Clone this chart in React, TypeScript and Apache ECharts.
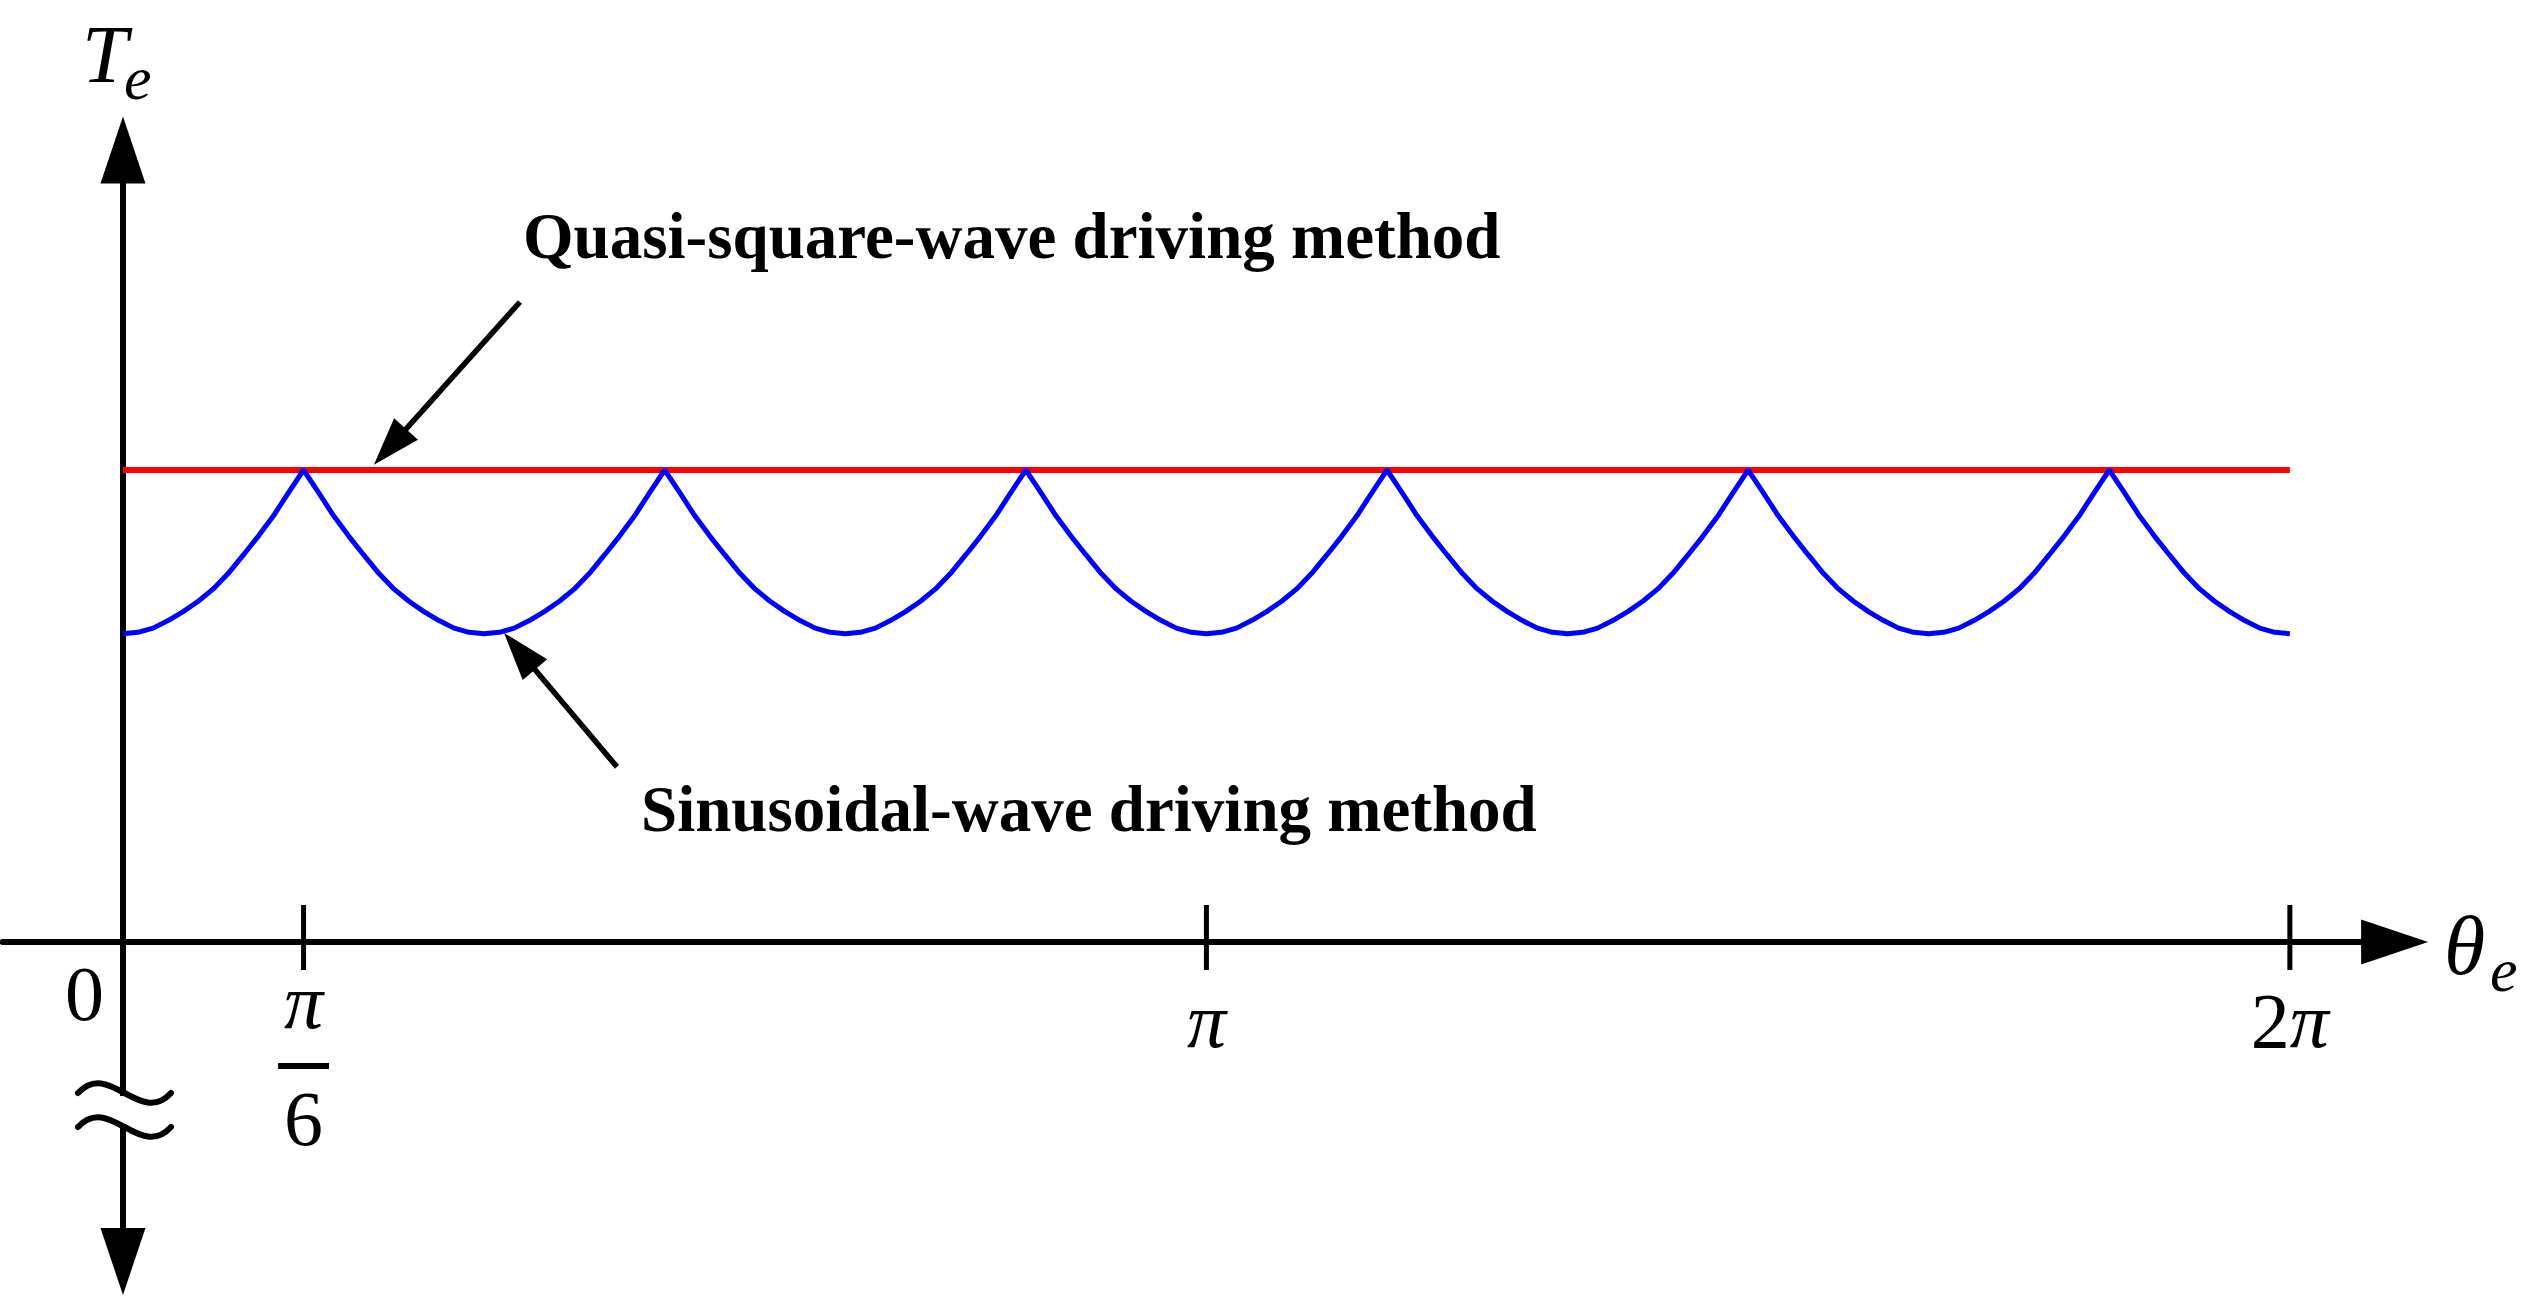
import React, { useEffect, useRef } from "react";
import * as echarts from "echarts";

// ---- Data ----
// electrical angle in degrees, sampled every 2.5 deg for the sinusoidal-wave torque
const angleStepDeg = 2.5;
const sinusoidalTorque = [
  0.653, 0.656, 0.665, 0.681, 0.700, 0.722, 0.748, 0.781, 0.820, 0.860, 0.903, 0.952, 1.000, 0.952, 0.903, 0.860, 0.820, 0.781, 0.748, 0.722, 0.700, 0.681, 0.665, 0.656,
  0.653, 0.656, 0.665, 0.681, 0.700, 0.722, 0.748, 0.781, 0.820, 0.860, 0.903, 0.952, 1.000, 0.952, 0.903, 0.860, 0.820, 0.781, 0.748, 0.722, 0.700, 0.681, 0.665, 0.656,
  0.653, 0.656, 0.665, 0.681, 0.700, 0.722, 0.748, 0.781, 0.820, 0.860, 0.903, 0.952, 1.000, 0.952, 0.903, 0.860, 0.820, 0.781, 0.748, 0.722, 0.700, 0.681, 0.665, 0.656,
  0.653, 0.656, 0.665, 0.681, 0.700, 0.722, 0.748, 0.781, 0.820, 0.860, 0.903, 0.952, 1.000, 0.952, 0.903, 0.860, 0.820, 0.781, 0.748, 0.722, 0.700, 0.681, 0.665, 0.656,
  0.653, 0.656, 0.665, 0.681, 0.700, 0.722, 0.748, 0.781, 0.820, 0.860, 0.903, 0.952, 1.000, 0.952, 0.903, 0.860, 0.820, 0.781, 0.748, 0.722, 0.700, 0.681, 0.665, 0.656,
  0.653, 0.656, 0.665, 0.681, 0.700, 0.722, 0.748, 0.781, 0.820, 0.860, 0.903, 0.952, 1.000, 0.952, 0.903, 0.860, 0.820, 0.781, 0.748, 0.722, 0.700, 0.681, 0.665, 0.656,
  0.653,
];
const quasiSquareAngles = [0, 360];
const quasiSquareTorque = [1.0, 1.0];

const xTickValues = [30, 180, 360];
const xLabelValues = [0, 30, 180, 360];
const xLabelTexts = ["0", "π/6", "π", "2π"];

const annotationTexts = ["Quasi-square-wave driving method", "Sinusoidal-wave driving method"];
const quasiArrow = [
  [65.95, 1.356],
  [44.36, 1.049],
];
const sinusoidalArrow = [
  [82.07, 0.371],
  [65.87, 0.616],
];

const SERIF = "'Liberation Serif', 'Times New Roman', serif";

export default function App() {
  const ref = useRef<HTMLDivElement>(null);

  useEffect(() => {
    if (!ref.current) return;
    const chart = echarts.init(ref.current, null, { renderer: "svg" });

    const labelBase = {
      fill: "#000",
      fontFamily: SERIF,
      fontSize: 78,
      align: "center",
      verticalAlign: "middle",
    };
    const richStyles = {
      p: { fill: "#000", fontFamily: SERIF, fontSize: 78, fontStyle: "italic" },
      n: { fill: "#000", fontFamily: SERIF, fontSize: 78 },
    };

    const option = {
      animation: false,
      backgroundColor: "#ffffff",
      grid: { left: 2.6, top: 150, width: 2392, bottom: 35.5, containLabel: false, outerBoundsMode: "none" },
      xAxis: {
        type: "value",
        min: -20,
        max: 377.4,
        splitLine: { show: false },
        axisTick: { show: false },
        axisLabel: { show: false },
        axisLine: {
          onZero: true,
          symbol: ["none", "triangle"],
          symbolSize: [45, 67],
          lineStyle: { color: "#000", width: 6 },
        },
      },
      yAxis: {
        type: "value",
        min: -0.677,
        max: 1.678,
        splitLine: { show: false },
        axisTick: { show: false },
        axisLabel: { show: false },
        axisLine: {
          onZero: true,
          symbol: ["triangle", "triangle"],
          symbolSize: [45, 67],
          lineStyle: { color: "#000", width: 6 },
        },
      },
      series: [
        {
          type: "line",
          name: "Quasi-square-wave driving method",
          data: quasiSquareAngles.map((a, i) => [a, quasiSquareTorque[i]]),
          symbol: "none",
          lineStyle: { color: "#ff0000", width: 6 },
          z: 3,
          markLine: {
            silent: true,
            animation: false,
            symbol: ["none", "triangle"],
            symbolSize: [32, 48],
            label: { show: false },
            emphasis: { disabled: true },
            lineStyle: { color: "#000", width: 5.5, type: "solid" },
            data: [
              [{ coord: quasiArrow[0] }, { coord: quasiArrow[1] }],
              [{ coord: sinusoidalArrow[0] }, { coord: sinusoidalArrow[1] }],
            ],
          },
        },
        {
          type: "line",
          name: "Sinusoidal-wave driving method",
          data: sinusoidalTorque.map((v, i) => [i * angleStepDeg, v]),
          symbol: "none",
          lineStyle: { color: "#0000ff", width: 5 },
          z: 4,
        },
        {
          type: "custom",
          name: "ticks",
          data: xTickValues.map((v) => [v, 0]),
          clip: false,
          silent: true,
          z: 5,
          renderItem: (params: any, api: any) => {
            const p = api.coord([api.value(0), 0]);
            return {
              type: "line",
              shape: { x1: p[0], y1: p[1] - 37, x2: p[0], y2: p[1] + 28 },
              style: { stroke: "#000", lineWidth: 5 },
            };
          },
        },
        {
          type: "custom",
          name: "tickLabels",
          data: xLabelValues.map((v) => [v, 0]),
          clip: false,
          silent: true,
          z: 5,
          renderItem: (params: any, api: any) => {
            const i = params.dataIndex;
            const p = api.coord([api.value(0), 0]);
            const label = xLabelTexts[i];
            if (label.includes("/")) {
              const [num, den] = label.split("/");
              return {
                type: "group",
                children: [
                  { type: "text", x: p[0], y: p[1] + 60, style: { ...labelBase, text: num, fontStyle: "italic" } },
                  { type: "rect", shape: { x: p[0] - 25.5, y: p[1] + 121, width: 51, height: 6 }, style: { fill: "#000" } },
                  { type: "text", x: p[0], y: p[1] + 177, style: { ...labelBase, text: den } },
                ],
              };
            }
            if (api.value(0) === 0) {
              return { type: "text", x: p[0] - 38.5, y: p[1] + 52, style: { ...labelBase, text: label } };
            }
            const rich = label
              .split("")
              .map((ch) => (ch === "π" ? "{p|π}" : `{n|${ch}}`))
              .join("");
            return { type: "text", x: p[0], y: p[1] + 79, style: { ...labelBase, text: rich, rich: richStyles } };
          },
        },
      ],
      graphic: [
        // axis break on the y axis
        { type: "rect", z: 100, shape: { x: 115, y: 1096, width: 16, height: 28 }, style: { fill: "#fff" } },
        {
          type: "bezierCurve",
          z: 101,
          shape: { x1: 78, y1: 1093, cpx1: 109, cpy1: 1059, cpx2: 140, cpy2: 1127, x2: 171, y2: 1093 },
          style: { stroke: "#000", lineWidth: 6, fill: null, lineCap: "round" },
        },
        {
          type: "bezierCurve",
          z: 101,
          shape: { x1: 78, y1: 1127, cpx1: 109, cpy1: 1093, cpx2: 140, cpy2: 1161, x2: 171, y2: 1127 },
          style: { stroke: "#000", lineWidth: 6, fill: null, lineCap: "round" },
        },
        // annotations
        {
          type: "text",
          x: 523,
          y: 236,
          z: 50,
          style: {
            text: annotationTexts[0],
            fill: "#000",
            fontFamily: SERIF,
            fontWeight: "bold",
            fontSize: 65,
            align: "left",
            verticalAlign: "middle",
          },
        },
        {
          type: "text",
          x: 641,
          y: 809,
          z: 50,
          style: {
            text: annotationTexts[1],
            fill: "#000",
            fontFamily: SERIF,
            fontWeight: "bold",
            fontSize: 65,
            align: "left",
            verticalAlign: "middle",
          },
        },
        // axis names
        {
          type: "text",
          x: 82,
          y: 54,
          z: 50,
          style: { text: "T", fill: "#000", fontFamily: SERIF, fontStyle: "italic", fontSize: 82, align: "left", verticalAlign: "middle" },
        },
        {
          type: "text",
          x: 124,
          y: 78,
          z: 50,
          style: { text: "e", fill: "#000", fontFamily: SERIF, fontStyle: "italic", fontSize: 62, align: "left", verticalAlign: "middle" },
        },
        {
          type: "text",
          x: 2444,
          y: 945,
          z: 50,
          style: { text: "θ", fill: "#000", fontFamily: SERIF, fontStyle: "italic", fontSize: 84, align: "left", verticalAlign: "middle" },
        },
        {
          type: "text",
          x: 2490,
          y: 970,
          z: 50,
          style: { text: "e", fill: "#000", fontFamily: SERIF, fontStyle: "italic", fontSize: 62, align: "left", verticalAlign: "middle" },
        },
      ],
    };

    chart.setOption(option as any);
    return () => {
      chart.dispose();
    };
  }, []);

  return (
    <div
      ref={ref}
      style={{ position: "fixed", left: 0, top: 0, width: 2547, height: 1297, background: "#fff" }}
    />
  );
}
